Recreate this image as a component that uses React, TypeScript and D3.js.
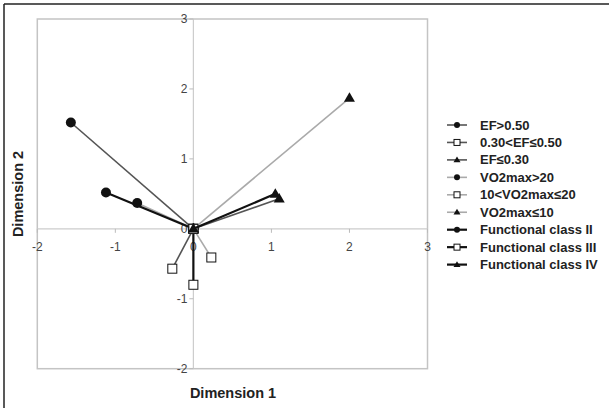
import React from "react";
import * as d3 from "d3";

const seriesNames = [
  "EF>0.50",
  "0.30<EF≤0.50",
  "EF≤0.30",
  "VO2max>20",
  "10<VO2max≤20",
  "VO2max≤10",
  "Functional class II",
  "Functional class III",
  "Functional class IV",
];
const xValues = [-1.57, -0.27, 1.1, -0.72, 0.23, 2.0, -1.12, 0.0, 1.05];
const yValues = [1.52, -0.57, 0.43, 0.37, -0.41, 1.87, 0.52, -0.8, 0.5];
const markerTypes = ["circle", "square", "triangle", "circle", "square", "triangle", "circle", "square", "triangle"];
const groupOf = [0, 0, 0, 1, 1, 1, 2, 2, 2];
const xTicks = [-2, -1, 0, 1, 2, 3];
const yTicks = [-2, -1, 0, 1, 2, 3];

const groupColor = ["#555555", "#aaaaaa", "#111111"];
const groupWidth = [1.6, 1.6, 2.2];

const W = 609;
const H = 408;

function Marker({ type, cx, cy, size }: { type: string; cx: number; cy: number; size: number }) {
  if (type === "circle") return <circle cx={cx} cy={cy} r={size / 2} fill="#111" />;
  if (type === "square")
    return (
      <rect x={cx - size / 2} y={cy - size / 2} width={size} height={size} fill="#fff" stroke="#111" strokeWidth={1} />
    );
  const h = size * 0.95;
  const p = `M${cx},${cy - h * 0.6} L${cx + size / 2 + 0.5},${cy + h * 0.4} L${cx - size / 2 - 0.5},${cy + h * 0.4} Z`;
  return <path d={p} fill="#111" />;
}

export default function App() {
  const x = d3.scaleLinear().domain([-2, 3]).range([37.3, 427.5]);
  const y = d3.scaleLinear().domain([-2, 3]).range([368.7, 19]);
  const tickFont = "Arial, 'Liberation Sans', sans-serif";
  const narrow = "'Liberation Sans Narrow', 'Arial Narrow', 'Liberation Sans', Arial, sans-serif";
  const legendX = 447;
  const legendY0 = 125;
  const legendDy = 17.45;
  return (
    <svg width={W} height={H} style={{ position: "absolute", left: 0, top: 0 }}>
      <rect x={0} y={0} width={W} height={H} fill="#fff" />
      {/* outer frame (top & left) */}
      <line x1={4} y1={4} x2={W} y2={4} stroke="#222" strokeWidth={1.5} />
      <line x1={4} y1={4} x2={4} y2={H} stroke="#222" strokeWidth={1.5} />
      {/* plot border */}
      <rect x={x(-2)} y={y(3)} width={x(3) - x(-2)} height={y(-2) - y(3)} fill="none" stroke="#c4c4c4" strokeWidth={1.5} />
      {/* axes */}
      <line x1={x(-2)} x2={x(3)} y1={y(0)} y2={y(0)} stroke="#cccccc" strokeWidth={1.2} />
      <line x1={x(0)} x2={x(0)} y1={y(-2)} y2={y(3)} stroke="#cccccc" strokeWidth={1.2} />
      {xTicks.map((t) => (
        <g key={"xt" + t}>
          <line x1={x(t)} x2={x(t)} y1={y(0)} y2={y(0) + 4} stroke="#bbb" strokeWidth={1} />
          <text x={x(t)} y={y(0) + 22} textAnchor="middle" fontFamily={tickFont} fontSize={12} fill="#444">
            {t}
          </text>
        </g>
      ))}
      {yTicks.map((t) => (
        <g key={"yt" + t}>
          <line x1={x(0) - 4} x2={x(0)} y1={y(t)} y2={y(t)} stroke="#bbb" strokeWidth={1} />
          <text x={x(0) - 6} y={y(t) + 4} textAnchor="end" fontFamily={tickFont} fontSize={12} fill="#444">
            {t}
          </text>
        </g>
      ))}
      {/* series */}
      {seriesNames.map((name, i) => {
        const g = groupOf[i];
        return (
          <g key={name}>
            <line
              x1={x(0)}
              y1={y(0)}
              x2={x(xValues[i])}
              y2={y(yValues[i])}
              stroke={groupColor[g]}
              strokeWidth={groupWidth[g]}
            />
            <Marker type={markerTypes[i]} cx={x(0)} cy={y(0)} size={markerTypes[i] === "square" ? 9 : 10} />
            <Marker type={markerTypes[i]} cx={x(xValues[i])} cy={y(yValues[i])} size={markerTypes[i] === "square" ? 9 : 10} />
          </g>
        );
      })}
      {/* axis titles */}
      <text x={233} y={398} textAnchor="middle" fontFamily={narrow} fontWeight="bold" fontSize={14.5} fill="#222">
        Dimension 1
      </text>
      <text
        transform={`translate(23,194) rotate(-90)`}
        textAnchor="middle"
        fontFamily={narrow}
        fontWeight="bold"
        fontSize={14.5}
        fill="#222"
      >
        Dimension 2
      </text>
      {/* legend */}
      {seriesNames.map((name, i) => {
        const g = groupOf[i];
        const cy = legendY0 + i * legendDy;
        return (
          <g key={"lg" + name}>
            <line x1={legendX} x2={legendX + 20} y1={cy} y2={cy} stroke={groupColor[g]} strokeWidth={groupWidth[g]} />
            <Marker type={markerTypes[i]} cx={legendX + 10} cy={cy} size={6} />
            <text x={480} y={cy + 4.5} fontFamily={narrow} fontWeight="bold" fontSize={13} fill="#222">
              {name}
            </text>
          </g>
        );
      })}
    </svg>
  );
}
